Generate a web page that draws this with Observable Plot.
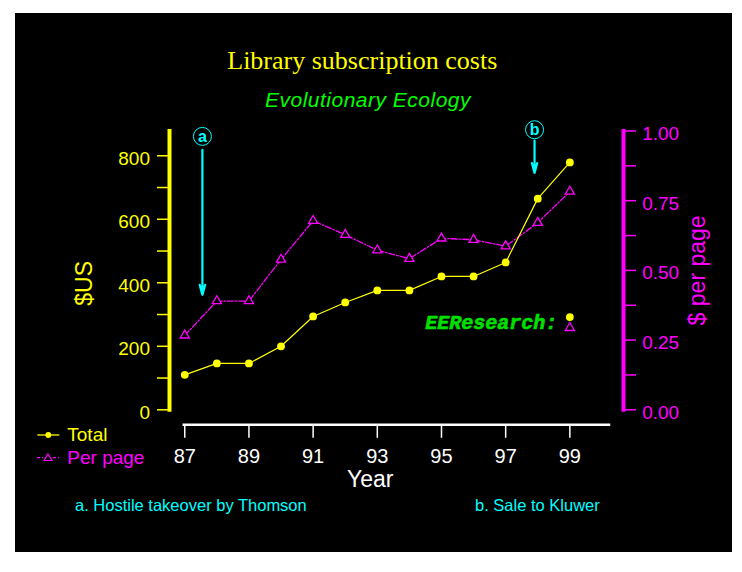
<!DOCTYPE html>
<html>
<head>
<meta charset="utf-8">
<script src="https://cdn.jsdelivr.net/npm/d3@7"></script>
<script src="https://cdn.jsdelivr.net/npm/@observablehq/plot@0.6"></script>
<style>
  body { margin: 0; background: #ffffff; }
  #wrap { position: relative; width: 742px; height: 572px; overflow: hidden; font-family: "Liberation Sans", Arial, sans-serif; }
  #bg { position: absolute; left: 15px; top: 13px; width: 717px; height: 539px; background: #000000; }
  #chart { position: absolute; left: 0; top: 0; }
  .t { position: absolute; white-space: nowrap; line-height: 1; }
</style>
</head>
<body>
<div id="wrap">
  <div id="bg"></div>
  <div id="chart"></div>
  <div class="t" id="title" style="left:362.3px; top:48.2px; transform:translateX(-50%); font-family:'Liberation Serif',serif; font-size:26px; color:#ffff00;"></div>
  <div class="t" id="subtitle" style="left:368px; top:89.2px; transform:translateX(-50%); font-style:italic; font-size:21px; letter-spacing:0.5px; color:#00ff00;"></div>
  <div class="t" id="noteA" style="left:75px; top:497px; font-size:16.5px; color:#00ffff;"></div>
  <div class="t" id="noteB" style="left:475px; top:497px; font-size:16.5px; color:#00ffff;"></div>
  <svg id="legendSwatch" style="position:absolute; left:30px; top:425px;" width="36" height="42">
    <line x1="7.3" y1="10" x2="29.3" y2="10" stroke="#ffff00" stroke-width="1.3"></line>
    <circle cx="18.3" cy="10" r="2.9" fill="#ffff00"></circle>
    <line x1="7" y1="32.7" x2="29.3" y2="32.7" stroke="#ff00ff" stroke-width="1.3" stroke-dasharray="3,2,1,2"></line>
    <path d="M18,29 L22,35.5 L14,35.5 Z" fill="#000" stroke="#ff00ff" stroke-width="1.2"></path>
  </svg>
  <div class="t" id="leg0" style="left:67.3px; top:424.6px; font-size:19px; color:#ffff00;"></div>
  <div class="t" id="leg1" style="left:67.3px; top:448.2px; font-size:19px; color:#ff00ff;"></div>
</div>
<script>
// ---- data ----
const years = [87, 88, 89, 90, 91, 92, 93, 94, 95, 96, 97, 98, 99];
const totalCost = [110, 146, 146, 200, 294, 338, 376, 376, 420, 420, 464, 665, 779];
const perPageCost = [0.267, 0.39, 0.39, 0.539, 0.678, 0.628, 0.572, 0.542, 0.615, 0.61, 0.587, 0.671, 0.783];

const eeYear = [99];
const eeTotal = [292];
const eePerPage = [0.294];

const eventIds = ["a", "b"];
const eventYears = [87.55, 97.9];
const eventCircleValue = [861, 882];   // in $US-axis units
const eventArrowFrom = [819, 848];
const eventArrowTo = [362, 746];
const eventNotes = ["a. Hostile takeover by Thomson", "b. Sale to Kluwer"];

const xTicks = [87, 89, 91, 93, 95, 97, 99];
const leftTicks = [0, 100, 200, 300, 400, 500, 600, 700, 800];
const leftLabels = [0, 200, 400, 600, 800];
const rightTicks = [0, 0.125, 0.25, 0.375, 0.5, 0.625, 0.75, 0.875, 1];
const rightLabels = [0, 0.25, 0.5, 0.75, 1];

const seriesNames = ["Total", "Per page"];
const titleText = "Library subscription costs";
const subtitleText = "Evolutionary Ecology";

// ---- styling ----
const YELLOW = "#ffff00", MAGENTA = "#ff00ff", CYAN = "#00ffff", GREEN = "#00e000";
const K = 878; // $US-axis units corresponding to 1.00 $ per page (shared frame)
const FONT = "Liberation Sans, Arial, sans-serif";

const rows = years.map((year, i) => ({year, total: totalCost[i], perPage: perPageCost[i] * K}));
const ee = eeYear.map((year, i) => ({year, total: eeTotal[i], perPage: eePerPage[i] * K}));
const events = eventIds.map((id, i) => ({id, year: eventYears[i], top: eventCircleValue[i], from: eventArrowFrom[i], to: eventArrowTo[i]}));

document.getElementById("title").textContent = titleText;
document.getElementById("subtitle").textContent = subtitleText;
document.getElementById("noteA").textContent = eventNotes[0];
document.getElementById("noteB").textContent = eventNotes[1];
document.getElementById("leg0").textContent = seriesNames[0];
document.getElementById("leg1").textContent = seriesNames[1];

const chart = Plot.plot({
  width: 742,
  height: 572,
  marginLeft: 183.3,
  marginRight: 133.5,
  marginTop: 130.5,
  marginBottom: 162.7,
  style: {background: "transparent", overflow: "visible", fontFamily: FONT},
  x: {domain: [86.97, 100.22]},
  y: {domain: [0, K]},
  marks: [
    // axis lines
    Plot.frame({anchor: "left", stroke: YELLOW, strokeWidth: 4, dx: -14.3}),
    Plot.frame({anchor: "right", stroke: MAGENTA, strokeWidth: 4, dx: 14.5}),
    Plot.frame({anchor: "bottom", stroke: "#ffffff", strokeWidth: 2.5, dy: 15}),
    // left axis
    Plot.axisY(leftTicks, {anchor: "left", dx: -14.3, tickSize: 12, stroke: YELLOW, strokeWidth: 1.5, fill: "none", label: null}),
    Plot.axisY(leftLabels, {anchor: "left", dx: -14.3, dy: 3, tickSize: 0, tickPadding: 19.5, fill: YELLOW, fontSize: 19, tickFormat: d => String(d), label: null}),
    // right axis
    Plot.axisY(rightTicks.map(v => v * K), {anchor: "right", dx: 14.5, tickSize: 12, stroke: MAGENTA, strokeWidth: 1.5, fill: "none", label: null}),
    Plot.axisY(rightLabels.map(v => v * K), {anchor: "right", dx: 14.5, dy: 2.8, tickSize: 0, tickPadding: 18.7, fill: MAGENTA, fontSize: 19, tickFormat: d => (d / K).toFixed(2), label: null}),
    // x axis
    Plot.axisX(xTicks, {anchor: "bottom", dy: 15, tickSize: 13.5, stroke: "#ffffff", strokeWidth: 1.5, fill: "none", label: null}),
    Plot.axisX(xTicks, {anchor: "bottom", dy: 15, tickSize: 0, tickPadding: 24, fill: "#ffffff", fontSize: 20, tickFormat: d => String(d), label: null}),
    // axis titles
    Plot.text(["Year"], {frameAnchor: "bottom", textAnchor: "middle", lineAnchor: "middle", dx: -26.2, dy: 70, fontSize: 23, fill: "#ffffff"}),
    Plot.text(["$US"], {frameAnchor: "left", textAnchor: "middle", lineAnchor: "middle", rotate: -90, dx: -98.8, dy: 13, fontSize: 23, fill: YELLOW}),
    Plot.text(["$ per page"], {frameAnchor: "right", textAnchor: "middle", lineAnchor: "middle", rotate: -90, dx: 88.5, dy: 0, fontSize: 23, fill: MAGENTA}),
    // per page series
    Plot.line(rows, {x: "year", y: "perPage", stroke: MAGENTA, strokeWidth: 1.3, strokeDasharray: "6,2,1.5,2"}),
    Plot.dot(rows, {x: "year", y: "perPage", symbol: "triangle", r: 3.4, stroke: MAGENTA, fill: "#000000", strokeWidth: 1.3}),
    // total series
    Plot.line(rows, {x: "year", y: "total", stroke: YELLOW, strokeWidth: 1.2}),
    Plot.dot(rows, {x: "year", y: "total", r: 3.9, fill: YELLOW}),
    // EEResearch comparison
    Plot.dot(ee, {x: "year", y: "total", r: 3.9, fill: YELLOW}),
    Plot.dot(ee, {x: "year", y: "perPage", symbol: "triangle", r: 3.4, stroke: MAGENTA, fill: "#000000", strokeWidth: 1.3}),
    Plot.text(ee, {x: "year", y: "total", text: () => "EEResearch:", textAnchor: "end", lineAnchor: "middle", dx: -12.6, dy: 5.9,
      fontFamily: "Liberation Mono, monospace", fontWeight: "bold", fontStyle: "italic", fontSize: 20, fill: GREEN, stroke: GREEN, strokeWidth: 0.6}),
    // event annotations
    Plot.arrow(events, {x: "year", y1: "from", y2: "to", stroke: CYAN, strokeWidth: 2.2, headLength: 7, headAngle: 30}),
    Plot.dot(events, {x: "year", y: "top", r: 9, stroke: CYAN, fill: "#000000", strokeWidth: 1}),
    Plot.text(events, {x: "year", y: "top", text: "id", fill: CYAN, fontSize: 16, fontWeight: "bold"})
  ]
});
document.getElementById("chart").appendChild(chart);
</script>
</body>
</html>
